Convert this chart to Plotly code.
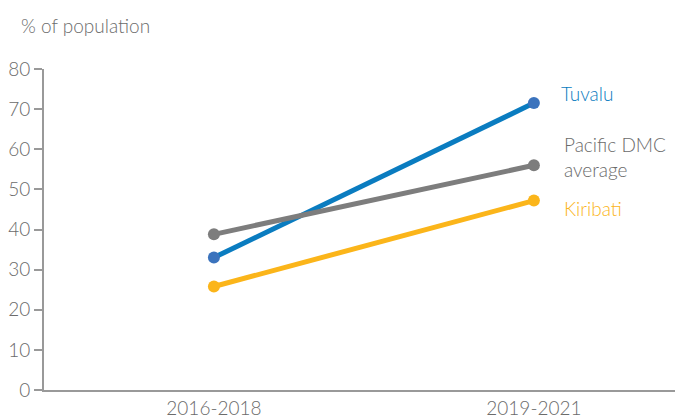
import plotly.graph_objects as go

periods = ["2016-2018", "2019-2021"]
tuvalu = [33.0, 71.5]
pacific = [38.8, 56.0]
kiribati = [25.8, 47.2]
y_ticks = [0, 10, 20, 30, 40, 50, 60, 70, 80]

series = [
    ("Tuvalu", tuvalu, "#0a7cc0", "#3b73bd"),
    ("Pacific DMC average", pacific, "#7d7d7d", "#7d7d7d"),
    ("Kiribati", kiribati, "#fbb51a", "#fbb51a"),
]

fig = go.Figure()
for name, vals, lc, mc in series:
    fig.add_trace(go.Scatter(x=periods, y=vals, mode="lines+markers", name=name,
                             line=dict(color=lc, width=5),
                             marker=dict(color=mc, size=12),
                             showlegend=False))

font = "Lato, 'Open Sans', sans-serif"
W = 300
fig.update_layout(
    width=675, height=412,
    margin=dict(l=32, r=0, t=61, b=30),
    plot_bgcolor="white", paper_bgcolor="white",
    font=dict(family=font, size=19, color="#6b6b6b", weight=W),
    xaxis=dict(type="category", range=[-0.531, 1.466], showgrid=False,
               showline=True, linecolor="#999999", linewidth=2,
               ticks="", tickfont=dict(size=19, color="#6b6b6b", weight=W)),
    yaxis=dict(range=[0, 80], tickvals=y_ticks, showgrid=False, zeroline=False,
               showline=True, linecolor="#999999", linewidth=2,
               ticks="outside", ticklen=8, tickcolor="#999999", tickwidth=1.5,
               tickfont=dict(size=19, color="#6b6b6b", weight=W)),
)

fig.add_annotation(text="% of population", xref="paper", yref="paper", x=0, y=1,
                   xanchor="left", yanchor="middle", showarrow=False,
                   xshift=-25, yshift=44,
                   font=dict(size=19, color="#6b6b6b", weight=W))
fig.add_annotation(text="Tuvalu", x=1, y=tuvalu[1], xref="x", yref="y", xshift=25, yshift=10,
                   xanchor="left", showarrow=False, font=dict(size=19, color="#0a7cc0", weight=W))
fig.add_annotation(text="Pacific DMC<br>average", x=1, y=pacific[1], xref="x", yref="y",
                   xshift=28, yshift=8, xanchor="left", align="left", showarrow=False,
                   font=dict(size=19, color="#6b6b6b", weight=W))
fig.add_annotation(text="Kiribati", x=1, y=kiribati[1], xref="x", yref="y", xshift=28, yshift=-8,
                   xanchor="left", showarrow=False, font=dict(size=19, color="#fbb51a", weight=W))

fig.write_html("out.html")
